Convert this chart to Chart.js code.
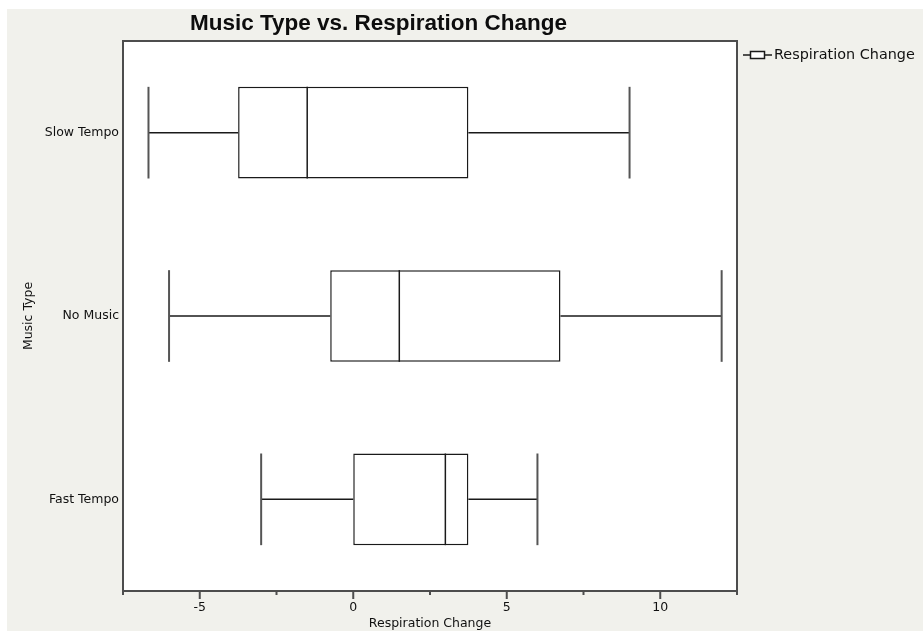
<!DOCTYPE html>
<html>
<head>
<meta charset="utf-8">
<script src="https://cdn.jsdelivr.net/npm/chart.js@4/dist/chart.umd.min.js"></script>
<style>
  html, body { margin: 0; padding: 0; background: #ffffff; }
  canvas { display: block; }
</style>
</head>
<body>
<canvas id="chart" width="923" height="631"></canvas>
<script>
// Five-number summaries for each music type
const categories   = ['Slow Tempo', 'No Music', 'Fast Tempo'];
const whiskerLow   = [-6.67, -6, -3];
const quartileLow  = [-3.75, -0.75, 0];
const medians      = [-1.5, 1.5, 3];
const quartileHigh = [3.75, 6.75, 3.75];
const whiskerHigh  = [9, 12, 6];

// Axis settings
const xMin = -7.5;
const xMax = 12.5;
const xStep = 2.5;
const labelledTicks = [-5, 0, 5, 10];

const seriesName = 'Respiration Change';
const chartTitle = 'Music Type vs. Respiration Change';
const xAxisTitle = 'Respiration Change';
const yAxisTitle = 'Music Type';

const LABEL_FAMILY = '"DejaVu Sans", "Liberation Sans", sans-serif';
const INK = '#1a1a1a';
const FRAME = '#4d4d4d';

function strokeLine(ctx, x1, y1, x2, y2) {
  ctx.beginPath();
  ctx.moveTo(x1, y1);
  ctx.lineTo(x2, y2);
  ctx.stroke();
}

// Grey page with a white plotting field
const backdrop = {
  id: 'backdrop',
  beforeDraw(chart) {
    const { ctx, width, height, chartArea: a } = chart;
    ctx.save();
    ctx.fillStyle = '#ffffff';
    ctx.fillRect(0, 0, width, height);
    ctx.fillStyle = '#f1f1ec';
    ctx.fillRect(7, 9, width - 7, height - 9);
    ctx.fillStyle = '#ffffff';
    ctx.fillRect(a.left, a.top, a.right - a.left, a.bottom - a.top);
    ctx.restore();
  }
};

// Whiskers, medians, frame, tick marks, title and legend
const boxParts = {
  id: 'boxParts',
  afterDatasetsDraw(chart) {
    const { ctx, chartArea: a } = chart;
    const xs = chart.scales.x;
    const meta = chart.getDatasetMeta(0);
    ctx.save();
    ctx.lineCap = 'butt';
    meta.data.forEach((bar, i) => {
      const { y, height } = bar.getProps(['y', 'height'], true);
      const top = y - height / 2;
      const bottom = y + height / 2;
      const pLo = xs.getPixelForValue(whiskerLow[i]);
      const pQ1 = xs.getPixelForValue(quartileLow[i]);
      const pMed = xs.getPixelForValue(medians[i]);
      const pQ3 = xs.getPixelForValue(quartileHigh[i]);
      const pHi = xs.getPixelForValue(whiskerHigh[i]);

      ctx.strokeStyle = INK;
      ctx.lineWidth = 1.5;
      strokeLine(ctx, pLo, y, pQ1, y);
      strokeLine(ctx, pQ3, y, pHi, y);
      strokeLine(ctx, pMed, top, pMed, bottom);

      ctx.strokeStyle = '#555555';
      ctx.lineWidth = 2;
      strokeLine(ctx, pLo, top, pLo, bottom);
      strokeLine(ctx, pHi, top, pHi, bottom);
    });

    // plot frame
    ctx.strokeStyle = FRAME;
    ctx.lineWidth = 2;
    ctx.strokeRect(a.left, a.top, a.right - a.left, a.bottom - a.top);

    // tick marks: long at labelled values, short between
    xs.ticks.forEach(t => {
      const px = xs.getPixelForValue(t.value);
      const len = labelledTicks.includes(t.value) ? 8 : 4;
      strokeLine(ctx, px, a.bottom, px, a.bottom + len);
    });
    ctx.restore();
  },
  afterDraw(chart) {
    const { ctx } = chart;
    ctx.save();

    // title
    ctx.fillStyle = '#0d0d0d';
    ctx.font = 'bold 22.5px "Liberation Sans", Arial, sans-serif';
    ctx.textAlign = 'center';
    ctx.textBaseline = 'alphabetic';
    ctx.fillText(chartTitle, 378.5, 29.5);

    // legend entry
    const ly = 55;
    ctx.strokeStyle = INK;
    ctx.lineWidth = 1.5;
    strokeLine(ctx, 743, ly, 772, ly);
    ctx.fillStyle = '#ffffff';
    ctx.fillRect(750.5, 51.5, 14, 7);
    ctx.strokeRect(750.5, 51.5, 14, 7);
    ctx.fillStyle = '#111111';
    ctx.font = '14.4px ' + LABEL_FAMILY;
    ctx.textAlign = 'left';
    ctx.textBaseline = 'middle';
    ctx.fillText(chart.data.datasets[0].label, 774, ly);
    ctx.restore();
  }
};

const labelFont = { family: LABEL_FAMILY, size: 12.5 };

new Chart(document.getElementById('chart'), {
  type: 'bar',
  data: {
    labels: categories,
    datasets: [{
      label: seriesName,
      data: categories.map((_, i) => [quartileLow[i], quartileHigh[i]]),
      backgroundColor: '#ffffff',
      borderColor: INK,
      borderWidth: 1.5,
      borderSkipped: false,
      barPercentage: 0.5,
      categoryPercentage: 1
    }]
  },
  options: {
    indexAxis: 'y',
    responsive: false,
    animation: false,
    devicePixelRatio: 1,
    layout: { padding: { top: 41, right: 186, left: 0, bottom: 0 } },
    plugins: {
      legend: { display: false },
      tooltip: { enabled: false },
      title: { display: false }
    },
    scales: {
      x: {
        type: 'linear',
        min: xMin,
        max: xMax,
        ticks: {
          stepSize: xStep,
          autoSkip: false,
          maxRotation: 0,
          padding: 9,
          color: '#111111',
          font: labelFont,
          callback: v => labelledTicks.includes(v) ? String(v) : ''
        },
        grid: { display: false, drawTicks: false },
        border: { display: false },
        title: {
          display: true,
          text: xAxisTitle,
          color: '#111111',
          font: labelFont,
          padding: { top: 0, bottom: 0 }
        },
        afterFit: s => { s.height = 40; }
      },
      y: {
        ticks: { padding: 4, color: '#111111', font: labelFont },
        grid: { display: false, drawTicks: false },
        border: { display: false },
        title: {
          display: true,
          text: yAxisTitle,
          color: '#111111',
          font: labelFont,
          padding: { top: 21, bottom: 0 }
        },
        afterFit: s => { s.width = 123; }
      }
    }
  },
  plugins: [backdrop, boxParts]
});
</script>
</body>
</html>
